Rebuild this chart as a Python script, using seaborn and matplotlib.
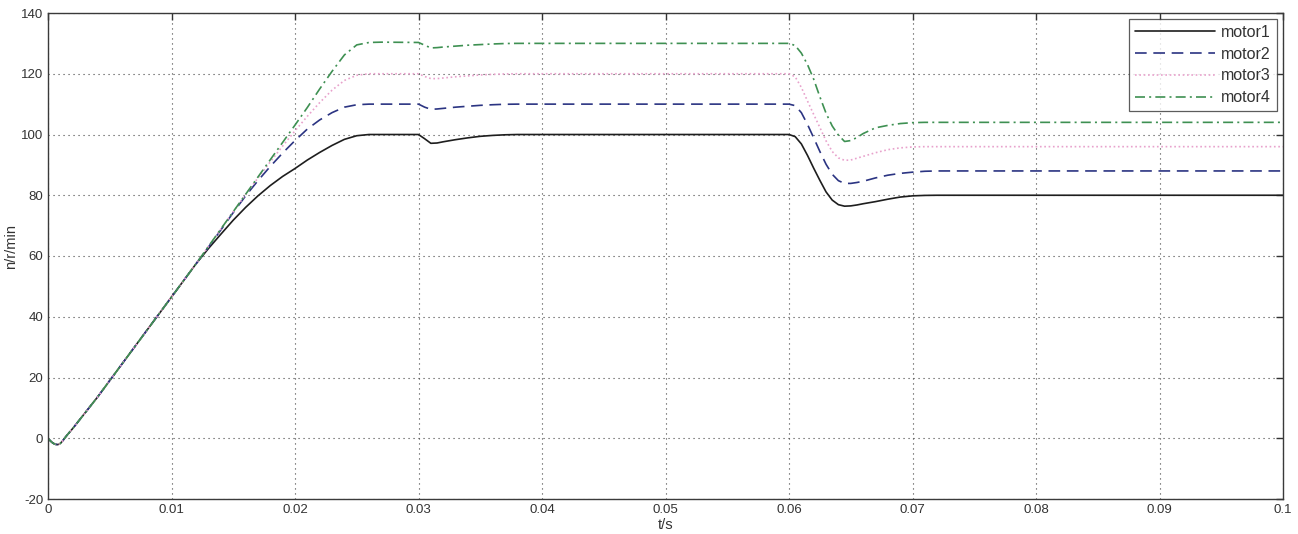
import numpy as np
import pandas as pd
import matplotlib
matplotlib.use("Agg")
import matplotlib.pyplot as plt
import seaborn as sns

# ---- data ----
t_s = [0.0, 0.0002, 0.0004, 0.0006, 0.0008, 0.001, 0.0012, 0.0014, 0.0016, 0.002,
       0.004, 0.006, 0.008, 0.010,
       0.011, 0.012, 0.013, 0.014, 0.015, 0.016, 0.017, 0.018, 0.019, 0.020,
       0.021, 0.022, 0.023, 0.024, 0.025, 0.026, 0.027, 0.030, 0.0305, 0.031,
       0.0315, 0.032, 0.033, 0.034, 0.035, 0.036, 0.037, 0.038, 0.060, 0.0605,
       0.061, 0.0615, 0.062, 0.0625, 0.063, 0.0635, 0.064, 0.0645, 0.065, 0.0655,
       0.066, 0.067, 0.068, 0.069, 0.070, 0.071, 0.072, 0.100]

start = [0.0, -0.9, -1.6, -2.0, -2.1, -1.7, -0.8, 0.3, 1.3, 3.2,
         13.5, 24.5, 35.5, 46.5]

motor1 = start + [
          52.0, 57.5, 62.5, 67.2, 71.8, 76.0, 79.8, 83.2, 86.2, 88.8,
          91.6, 94.1, 96.4, 98.4, 99.6, 100.0, 100.0, 100.0, 98.6, 97.1,
          97.2, 97.6, 98.3, 98.9, 99.4, 99.7, 99.9, 100.0, 100.0, 99.3,
          96.9, 93.1, 88.9, 84.9, 81.1, 78.4, 76.9, 76.4, 76.5, 76.8,
          77.2, 77.9, 78.7, 79.4, 79.8, 79.95, 80.0, 80.0]

motor2 = start + [
          52.0, 57.5, 63.0, 68.6, 74.3, 79.8, 84.8, 89.5, 93.9, 98.0,
          101.8, 104.8, 107.2, 109.0, 109.8, 110.0, 110.0, 110.0, 109.0, 108.3,
          108.4, 108.6, 109.0, 109.3, 109.6, 109.8, 109.95, 110.0, 110.0, 109.5,
          107.2, 103.3, 98.9, 94.4, 90.2, 86.9, 84.8, 83.9, 83.9, 84.2,
          84.6, 85.7, 86.6, 87.2, 87.6, 87.9, 88.0, 88.0]

motor3 = start + [
          52.0, 57.5, 63.2, 68.9, 74.6, 80.2, 85.7, 91.0, 96.2, 101.2,
          106.0, 110.5, 114.6, 117.8, 119.5, 120.0, 120.0, 120.0, 119.1, 118.4,
          118.4, 118.6, 119.0, 119.3, 119.6, 119.8, 119.95, 120.0, 120.0, 119.0,
          115.5, 111.0, 106.6, 102.3, 97.9, 94.4, 92.3, 91.5, 91.6, 92.2,
          92.8, 94.0, 95.0, 95.6, 95.9, 96.0, 96.0, 96.0]

motor4 = start + [
          52.0, 57.5, 63.2, 68.9, 74.6, 80.3, 86.0, 91.7, 97.4, 103.1,
          108.9, 115.0, 120.8, 126.2, 129.5, 130.3, 130.4, 130.3, 129.4, 128.5,
          128.6, 128.8, 129.1, 129.4, 129.6, 129.8, 129.95, 130.0, 130.0, 129.3,
          126.8, 123.0, 118.2, 112.4, 107.0, 102.8, 99.8, 97.7, 98.0, 99.0,
          100.3, 102.2, 103.0, 103.6, 103.9, 104.0, 104.0, 104.0]

motor_names = ["motor1", "motor2", "motor3", "motor4"]
x_ticks = [0.0, 0.01, 0.02, 0.03, 0.04, 0.05, 0.06, 0.07, 0.08, 0.09, 0.1]
x_tick_labels = ["0", "0.01", "0.02", "0.03", "0.04", "0.05", "0.06", "0.07", "0.08", "0.09", "0.1"]
y_ticks = [-20, 0, 20, 40, 60, 80, 100, 120, 140]

# ---- long-form table ----
frames = []
for name, vals in zip(motor_names, [motor1, motor2, motor3, motor4]):
    frames.append(pd.DataFrame({"t": t_s, "v": vals, "motor": name}))
df = pd.concat(frames, ignore_index=True)

sns.set_style("white")
plt.rcParams["font.family"] = ["Liberation Sans", "DejaVu Sans"]

fig = plt.figure(figsize=(12.98, 5.34), dpi=100)
ax = fig.add_axes([48 / 1298, 1 - 499 / 534, 1235 / 1298, 486 / 534])

palette = {"motor1": "#1e1e1e", "motor2": "#2b3482", "motor3": "#e8a2cc", "motor4": "#3e9052"}
dashes = {"motor1": "", "motor2": (7, 4), "motor3": (1, 1.6), "motor4": (6, 2.5, 1.2, 2.5)}

sns.lineplot(data=df, x="t", y="v", hue="motor", style="motor", palette=palette,
             dashes=dashes, estimator=None, sort=False, linewidth=1.2, legend=False, ax=ax)

ax.set_xlim(0, 0.1)
ax.set_ylim(-20, 140)
ax.set_xticks(x_ticks)
ax.set_xticklabels(x_tick_labels)
ax.set_yticks(y_ticks)
ax.set_yticklabels([str(v) for v in y_ticks])

ax.grid(True, linestyle=(0, (1, 3.5)), color="#444444", linewidth=0.8)
ax.tick_params(direction="in", length=5, width=1, colors="#333333", labelsize=9.5,
               top=True, right=True, pad=3.5)
for s in ax.spines.values():
    s.set_color("#3a3a3a")
    s.set_linewidth(1.0)
    s.set_visible(True)

ax.set_xlabel("t/s", fontsize=10.5, color="#333333")
ax.set_ylabel("n/r/min", fontsize=10.5, color="#333333")
ax.xaxis.set_label_coords(0.5, -0.04)
ax.yaxis.set_label_coords(-0.024, 0.52)

handles = ax.get_lines()[:4]
leg = ax.legend(handles, motor_names, loc="upper right", fontsize=11.5, frameon=True,
                fancybox=False, handlelength=5.0, handletextpad=0.4, borderpad=0.35,
                labelspacing=0.42, borderaxespad=0.4)
leg.get_frame().set_edgecolor("#333333")
leg.get_frame().set_linewidth(0.9)
for txt in leg.get_texts():
    txt.set_color("#333333")

fig.savefig("out.png", dpi=100, facecolor="white")
